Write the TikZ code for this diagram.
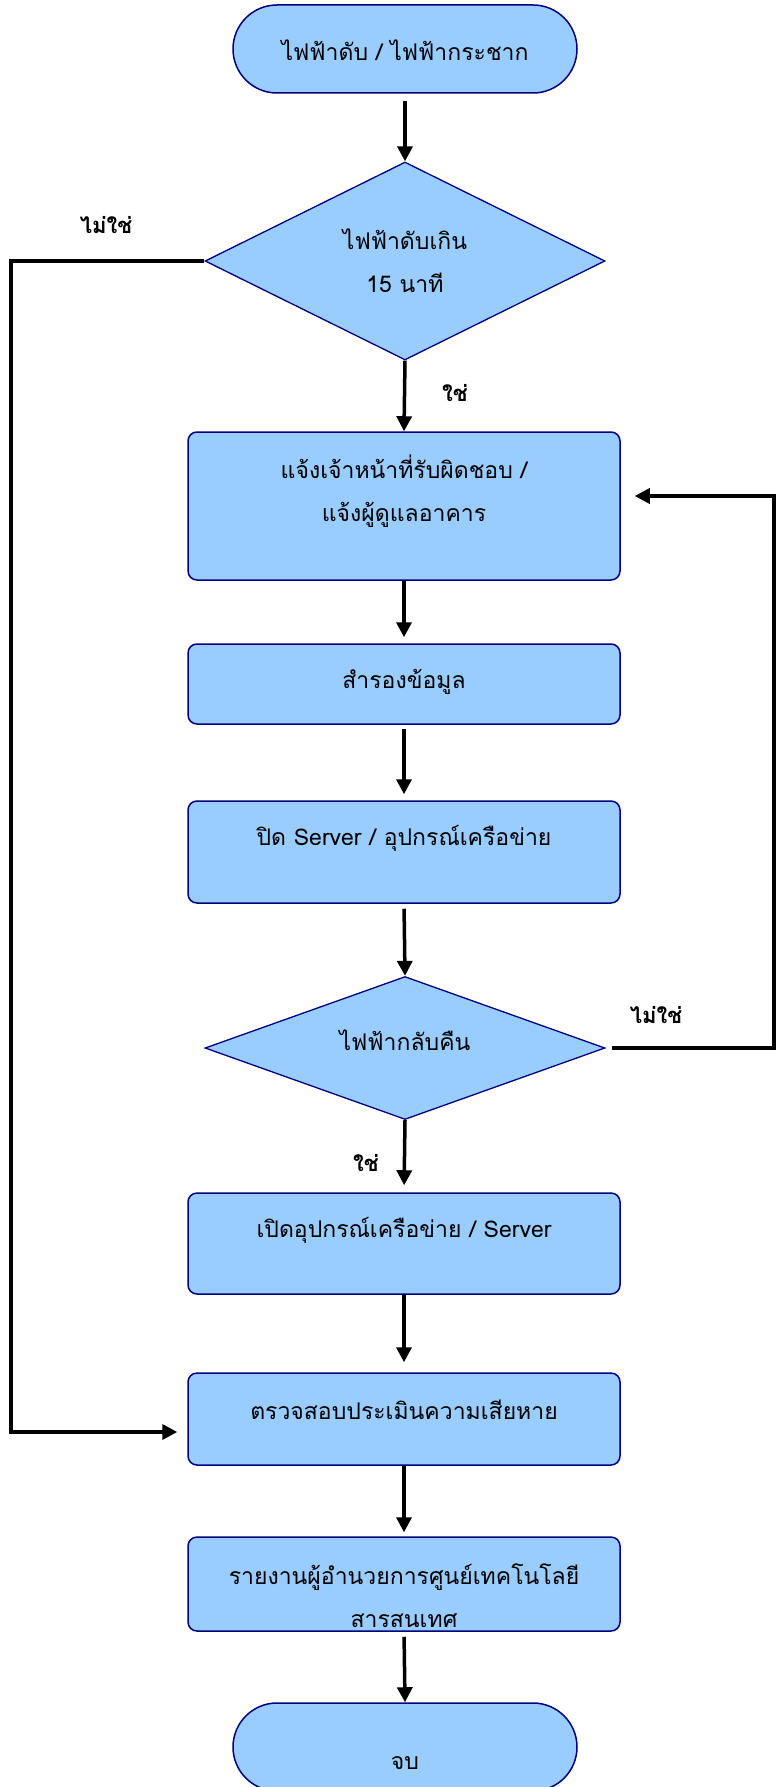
\documentclass[tikz,border=0pt]{standalone}
\usepackage{fontspec}
\setmainfont{Loma}[Script=Thai]
\usetikzlibrary{shapes.geometric,arrows.meta}
\definecolor{boxfill}{RGB}{153,204,255}
\definecolor{boxline}{RGB}{0,0,128}

\begin{document}
\begin{tikzpicture}[x=1pt,y=-1pt,
  term/.style={draw=boxline, fill=boxfill, line width=1.5pt, rounded corners=44pt,
    minimum width=344pt, minimum height=88pt, inner sep=0pt},
  procbox/.style={draw=boxline, fill=boxfill, line width=1.5pt, rounded corners=9pt,
    minimum width=432pt, inner sep=0pt},
  decision/.style={diamond, draw=boxline, fill=boxfill, line width=1.3pt,
    minimum width=400pt, inner sep=0pt},
  txt/.style={font=\fontsize{23}{43}\selectfont, align=center, inner sep=0pt},
  lbl/.style={font=\bfseries\fontsize{22}{26}\selectfont, inner sep=0pt},
  arr/.style={line width=3.5pt, -{Triangle[length=15pt,width=15pt]}}]

% canvas
\fill[white] (0,0) rectangle (776,1787);
\useasboundingbox (0,0) rectangle (776,1787);

% shapes
\node[term] (start) at (405,49) {};
\node[txt] (startt) at (405,50) {ไฟฟ้าดับ / ไฟฟ้ากระชาก};

\node[decision, minimum height=198pt] (d1) at (405,261) {};
\node[txt] (d1t) at (405,261) {ไฟฟ้าดับเกิน\\15 นาที};

\node[procbox, minimum height=148pt] (b1) at (404,506) {};
\node[txt] (b1t) at (404,491) {แจ้งเจ้าหน้าที่รับผิดชอบ /\\แจ้งผู้ดูแลอาคาร};

\node[procbox, minimum height=80pt] (b2) at (404,684) {};
\node[txt] (b2t) at (404,682) {สำรองข้อมูล};

\node[procbox, minimum height=102pt] (b3) at (404,852) {};
\node[txt] (b3t) at (404,838) {ปิด Server / อุปกรณ์เครือข่าย};

\node[decision, minimum height=143pt] (d2) at (405,1048) {};
\node[txt] (d2t) at (405,1040) {ไฟฟ้ากลับคืน};

\node[procbox, minimum height=101pt] (b4) at (404,1243.5) {};
\node[txt] (b4t) at (404,1230) {เปิดอุปกรณ์เครือข่าย / Server};

\node[procbox, minimum height=92pt] (b5) at (404,1419) {};
\node[txt] (b5t) at (404,1410) {ตรวจสอบประเมินความเสียหาย};

\node[procbox, minimum height=94pt] (b6) at (404,1584) {};
\node[txt] (b6t) at (404,1596) {รายงานผู้อำนวยการศูนย์เทคโนโลยี\\สารสนเทศ};

\node[term] (end) at (405,1747) {};
\node[txt] (endt) at (405,1763) {จบ};

% branch labels
\node[lbl] (no1) at (106,225) {ไม่ใช่};
\node[lbl] (yes1) at (455,393) {ใช่};
\node[lbl] (no2) at (656,1015) {ไม่ใช่};
\node[lbl] (yes2) at (366,1163) {ใช่};

% main flow
\draw[arr, shorten <=7pt] (start.south) -- (d1.north);
\draw[arr] (d1.south) -- (b1.north);
\draw[arr, shorten >=6pt] (b1.south) -- (b2.north);
\draw[arr, shorten <=4pt, shorten >=6pt] (b2.south) -- (b3.north);
\draw[arr, shorten <=5pt] (b3.south) -- (d2.north);
\draw[arr, shorten >=7pt] (d2.south) -- (b4.north);
\draw[arr, shorten >=10pt] (b4.south) -- (b5.north);
\draw[arr, shorten >=4pt] (b5.south) -- (b6.north);
\draw[arr, shorten <=5pt] (b6.south) -- (end.north);

% "no" branches
\coordinate (lcorner) at (11,1432);
\draw[arr] (d1.west) -| (lcorner) -- ([xshift=-10pt,yshift=-13pt]b5.west);
\coordinate (rcorner) at (774,1048);
\draw[arr, shorten <=6pt] (d2.east) -- (rcorner) |- ([xshift=14pt,yshift=10pt]b1.east);
\end{tikzpicture}
\end{document}
